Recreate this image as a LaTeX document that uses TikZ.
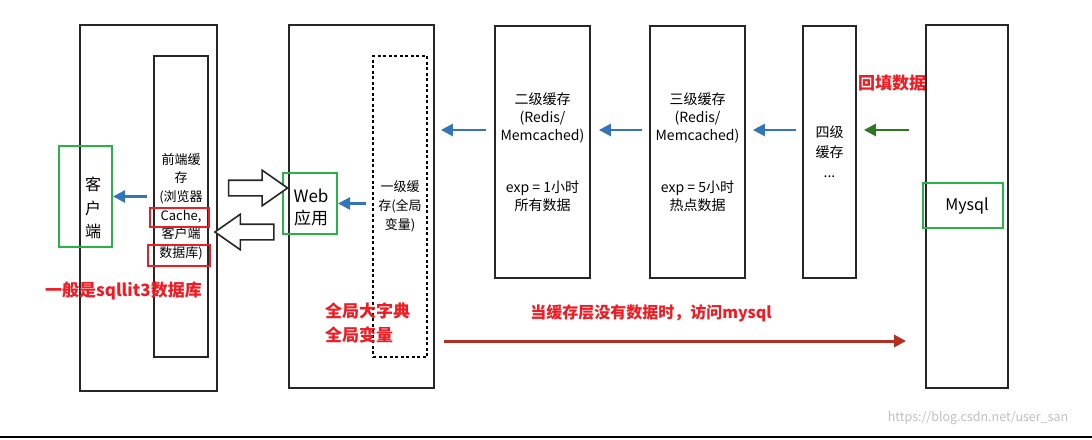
\documentclass[tikz,border=0pt]{standalone}
\usepackage{fontspec}
\setmainfont{Noto Sans CJK SC}
\usetikzlibrary{arrows.meta,shapes.arrows}
\definecolor{hintred}{RGB}{240,28,36}
\definecolor{markgreen}{RGB}{40,178,72}
\definecolor{flowblue}{RGB}{52,117,186}
\definecolor{fillgreen}{RGB}{48,118,32}
\definecolor{missred}{RGB}{178,48,32}

\begin{document}
\begin{tikzpicture}[x=1pt, y=-1pt,
  layer/.style={draw=black!85, line width=1.8pt, inner sep=0pt, align=center},
  cachebox/.style={layer, minimum width=95pt, minimum height=252pt,
    font=\fontsize{14}{18}\selectfont},
  greenmark/.style={draw=markgreen, line width=2pt, inner sep=0pt},
  redmark/.style={draw=hintred, line width=2pt, inner sep=0pt},
  hint/.style={text=hintred, font=\fontsize{17}{24}\selectfont\bfseries, inner sep=0pt},
  arrow/.style={-{Triangle[length=12pt,width=12pt]}, line width=2.6pt, flowblue},
  hollow/.style={single arrow, draw=black!85, line width=1.6pt, fill=white,
    minimum height=59pt, minimum width=34pt, inner sep=7pt,
    single arrow head extend=10pt, single arrow tip angle=70}
]
\useasboundingbox (0,0) rectangle (1092,439);

% client side
\node[layer, minimum width=137pt, minimum height=366pt] (client) at (148.5,208) {};
\node[layer, minimum width=54pt, minimum height=301pt,
  font=\fontsize{13}{18.6}\selectfont] (front) at (181,206.5)
  {前端缓\\存\\(浏览器\\Cache,\\客户端\\数据库)};
\node[redmark, minimum width=59pt, minimum height=19pt] (cachemark) at (179.5,217.5) {};
\node[redmark, minimum width=62pt, minimum height=21pt] (dbmark) at (179,255.5) {};
\node[greenmark, minimum width=53pt, minimum height=101pt] (user) at (85.5,196.5) {};
\node[align=center, inner sep=0pt, font=\fontsize{16}{23.5}\selectfont] (usertext) at (93,208) {客\\户\\端};
\node[hint] (sqlite) at (123.5,291) {一般是sqllit3数据库};

% web application
\node[layer, minimum width=145pt, minimum height=363pt] (web) at (361.5,206.5) {};
\node[draw, dashed, dash pattern=on 3pt off 2.5pt, line width=1.5pt, inner sep=0pt,
  align=center, minimum width=54pt, minimum height=301pt,
  font=\fontsize{13}{19}\selectfont] (l1) at (400,206.5) {一级缓\\存(全局\\变量)};
\node[greenmark, minimum width=54pt, minimum height=61pt] (app) at (310,203.5) {};
\node[align=center, inner sep=0pt, font=\fontsize{17}{22}\selectfont] (apptext) at (311,207) {Web\\应用};
\node[hint, anchor=west, align=left] (globals) at (325,323) {全局大字典\\全局变量};

\node[hollow] (request) at (252.5,188) {};
\node[hollow, shape border rotate=180] (response) at (250,232) {};

% cache layers
\node[cachebox] (l2) at (542.5,152) {二级缓存\\(Redis/\\Memcached)\\[34pt]exp = 1小时\\所有数据};
\node[cachebox] (l3) at (697.5,152) {三级缓存\\(Redis/\\Memcached)\\[34pt]exp = 5小时\\热点数据};
\node[layer, minimum width=53pt, minimum height=252pt,
  font=\fontsize{14}{20}\selectfont] (l4) at (829.5,152) {四级\\缓存\\...};
\node[hint] (refill) at (892,83) {回填数据};

% database
\node[layer, minimum width=82pt, minimum height=363pt] (db) at (967,206.5) {};
\node[greenmark, minimum width=80pt, minimum height=45pt] (mysql) at (963,205.5) {};
\node[inner sep=0pt, font=\fontsize{16}{20}\selectfont] (mysqltext) at (967,206) {Mysql};

\node[hint, font=\fontsize{16}{20}\selectfont\bfseries] (miss) at (651,313) {当缓存层没有数据时，访问mysql};
\node[text=black!25, inner sep=0pt, font=\fontsize{12.5}{14}\selectfont] (watermark) at (978,418) {https://blog.csdn.net/user\_san};

\coordinate (row) at (0,130);
\coordinate (missrow) at (0,341);

\draw[arrow, shorten <=6pt] (front.west |- user) -- (user.east);
\draw[arrow, shorten <=6pt] (l1.west |- app) -- (app.east);
\draw[arrow, shorten <=8pt, shorten >=6pt] (l2.west |- row) -- (web.east |- row);
\draw[arrow, shorten <=7pt, shorten >=8pt] (l3.west |- row) -- (l2.east |- row);
\draw[arrow, shorten <=6pt, shorten >=7pt] (l4.west |- row) -- (l3.east |- row);
\draw[arrow, fillgreen, shorten <=16pt, shorten >=7pt] (db.west |- row) -- (l4.east |- row);
\draw[arrow, missred, line width=3pt, shorten <=9pt, shorten >=19pt] (web.east |- missrow) -- (db.west |- missrow);

\draw[line width=2pt] (0,437) -- (1092,437);
\end{tikzpicture}
\end{document}
